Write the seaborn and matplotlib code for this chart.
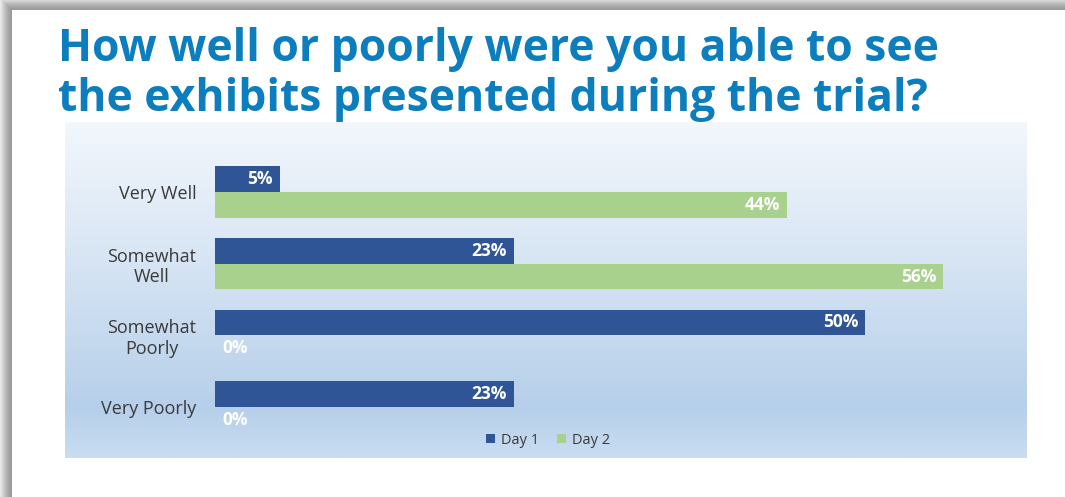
import numpy as np
import pandas as pd
import matplotlib
matplotlib.use("Agg")
import matplotlib.pyplot as plt
import seaborn as sns
from matplotlib.colors import LinearSegmentedColormap
from matplotlib.patches import Patch

# ---- data -------------------------------------------------------------
categories = ["Very Well", "Somewhat\nWell", "Somewhat\nPoorly", "Very Poorly"]
series = ["Day 1", "Day 2"]
day1 = [5, 23, 50, 23]
day2 = [44, 56, 0, 0]
title = "How well or poorly were you able to see\nthe exhibits presented during the trial?"

colors = {"Day 1": "#2f5597", "Day 2": "#a9d18e"}

df = pd.DataFrame({
    "category": categories * 2,
    "series": [series[0]] * len(categories) + [series[1]] * len(categories),
    "value": day1 + day2,
})

# ---- figure -----------------------------------------------------------
W, H = 1065, 497
sns.set_theme(style="white")
plt.rcParams["font.family"] = ["Open Sans", "DejaVu Sans"]
fig = plt.figure(figsize=(W / 100, H / 100), dpi=100)
fig.patch.set_facecolor("white")


def box(x0, y0, x1, y1):
    """pixel box (top-left origin) -> figure fraction rect"""
    return [x0 / W, 1 - y1 / H, (x1 - x0) / W, (y1 - y0) / H]


# slide frame shadow along the top and left edges
frame = fig.add_axes([0, 0, 1, 1], zorder=0)
yy, xx = np.mgrid[0:H, 0:W]
d = np.maximum(12 - xx, 10 - yy).astype(float)
shade = np.where(d > 0, 0.60 + 0.32 * (d / 12.0) ** 1.5, 1.0)
shade = np.clip(shade, 0, 1)
frame.imshow(np.dstack([shade] * 3), aspect="auto", interpolation="bilinear")
frame.axis("off")

# plot panel with a soft vertical gradient
panel = fig.add_axes(box(65, 122, 1027, 458), zorder=1)
grad_cmap = LinearSegmentedColormap.from_list(
    "panel",
    [(0.0, "#f3f7fc"), (0.45, "#d4e3f3"), (0.85, "#b6cfea"), (1.0, "#c9ddf1")],
)
panel.imshow(np.linspace(0, 1, 256)[:, None], aspect="auto", cmap=grad_cmap,
             extent=[0, 1, 0, 1], origin="upper")
panel.axis("off")

# ---- bars -------------------------------------------------------------
ax = fig.add_axes(box(215, 156, 995, 443), zorder=2)
ax.patch.set_alpha(0)
sns.barplot(data=df, y="category", x="value", hue="series", orient="h",
            order=categories, hue_order=series, palette=colors,
            width=0.72, saturation=1, legend=False, linewidth=0,
            edgecolor="none", ax=ax)
ax.set_xlim(0, 60)
ax.set_ylim(3.5, -0.5)
ax.set_xlabel("")
ax.set_ylabel("")
ax.set_xticks([])
for s in ax.spines.values():
    s.set_visible(False)
ax.set_yticks(range(len(categories)))
ax.set_yticklabels(categories, multialignment="center", fontsize=13,
                   color="#3a3a3a")
ax.tick_params(axis="y", length=0, pad=13.5)

# value labels inside the bar ends
for cont in ax.containers:
    for patch, v in zip(cont.patches, cont.datavalues):
        yc = patch.get_y() + patch.get_height() / 2
        if v > 0:
            ax.annotate(f"{v:g}%", (patch.get_x() + patch.get_width(), yc),
                        xytext=(-7, 0), textcoords="offset pixels",
                        ha="right", va="center", color="white",
                        fontsize=12.5, fontweight="bold")
        else:
            ax.annotate(f"{v:g}%", (0, yc), xytext=(7, 0),
                        textcoords="offset pixels", ha="left", va="center",
                        color="white", fontsize=12.5, fontweight="bold")

# legend
handles = [Patch(facecolor=colors[s], edgecolor="none") for s in series]
fig.legend(handles, series, loc="center", bbox_to_anchor=(548 / W, 1 - 440 / H),
           ncol=2, frameon=False, fontsize=10.5, handlelength=0.65,
           handleheight=0.65, handletextpad=0.4, columnspacing=1.2,
           labelcolor="#3a3a3a")

# title
fig.text(58 / W, 1 - 27 / H, title, ha="left", va="top",
         color="#0c7dbd", fontweight="bold", fontsize=32,
         linespacing=1.16)

fig.savefig("out.png", dpi=100)
